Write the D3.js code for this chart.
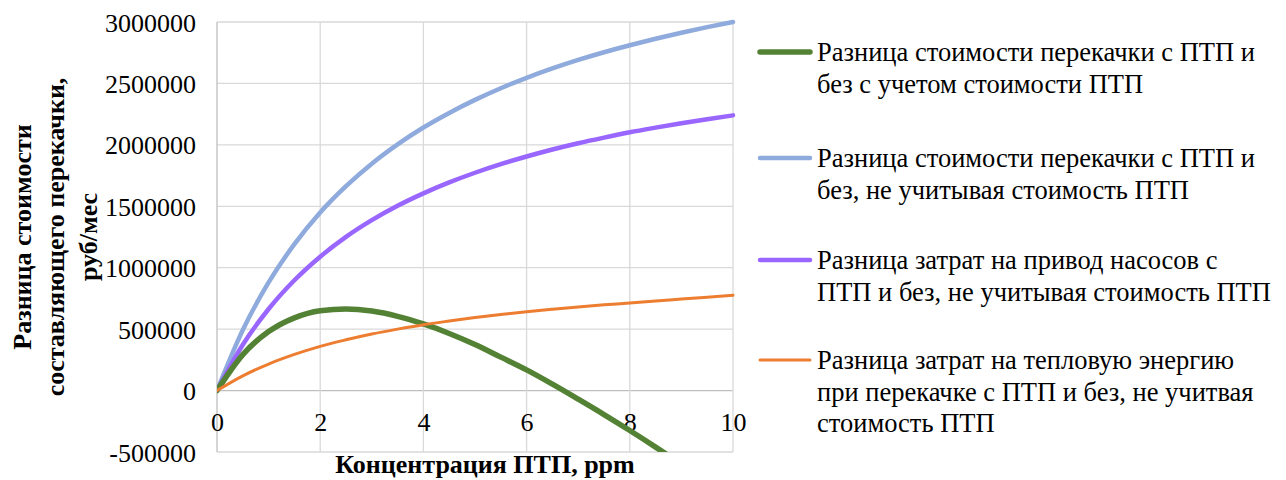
<!DOCTYPE html>
<html><head><meta charset="utf-8">
<script src="https://cdn.jsdelivr.net/npm/d3@7"></script>
<style>body{margin:0;background:#fff}svg{display:block}svg text{font-family:"Liberation Serif","Times New Roman",serif}</style>
</head><body>
<svg id="c" width="1286" height="480"></svg>
<script>
const xValues = [0,0.5,1,1.5,2,2.5,3,3.5,4,4.5,5,5.5,6,6.5,7,7.5,8,8.5,9,9.5,10];
const greenValues = [0,293000,480000,592000,650000,664000,647000,604000,542000,465000,375000,272000,168000,52000,-70000,-195000,-325000,-460000,-600000,-745000,-890000];
const blueValues = [0,493000,880000,1192000,1450000,1664000,1847000,2004000,2141000,2260000,2366000,2461000,2546000,2622000,2691000,2754000,2811000,2864000,2913000,2958000,3000000];
const purpleValues = [0,373000,664000,898000,1090000,1251000,1387000,1504000,1605000,1694000,1773000,1843000,1905000,1962000,2013000,2059000,2102000,2140000,2176000,2209000,2240000];
const orangeValues = [0,120000,216000,294000,360000,413000,460000,500000,536000,566000,594000,620000,642000,662000,681000,698000,713000,730000,745000,760000,775000];
const seriesNames = [
  ["Разница стоимости перекачки с ПТП и","без с учетом стоимости ПТП"],
  ["Разница стоимости перекачки с ПТП и","без, не учитывая стоимость ПТП"],
  ["Разница затрат на привод насосов с","ПТП и без, не учитывая стоимость ПТП"],
  ["Разница затрат на тепловую энергию","при перекачке с ПТП и без, не учитвая","стоимость ПТП"]
];
const xTicks = [0,2,4,6,8,10];
const yTicks = [-500000,0,500000,1000000,1500000,2000000,2500000,3000000];
const xTitle = "Концентрация ПТП, ppm";
const yTitle = ["Разница стоимости","составляющего перекачки,","руб/мес"];

const series = [
  {values: greenValues, color: "#548235", width: 5.5},
  {values: blueValues, color: "#8FAADC", width: 4.5},
  {values: purpleValues, color: "#9966FF", width: 4.5},
  {values: orangeValues, color: "#ED7D31", width: 3}
];
const drawOrder = [1,2,0,3];

const svg = d3.select("#c");
const L = 217, R = 733, T = 22, B = 452;
const x = d3.scaleLinear().domain([0,10]).range([L,R]);
const y = d3.scaleLinear().domain([-500000,3000000]).range([B,T]);

// gridlines
const g = svg.append("g");
g.selectAll(".hg").data(yTicks).join("line")
  .attr("x1",L).attr("x2",R).attr("y1",d=>y(d)).attr("y2",d=>y(d))
  .attr("stroke", d=> d===0 ? "#BFBFBF" : "#D9D9D9").attr("stroke-width",1.3);
g.selectAll(".vg").data(xTicks).join("line")
  .attr("y1",T).attr("y2",B).attr("x1",d=>x(d)).attr("x2",d=>x(d))
  .attr("stroke", d=> d===0 ? "#BFBFBF" : "#D9D9D9").attr("stroke-width",1.3);

// y axis labels
const yAxis = d3.axisLeft(y).tickValues(yTicks).tickSize(0).tickPadding(0).tickFormat(d=>String(d));
const ya = svg.append("g").attr("transform",`translate(${L-21},0)`).call(yAxis);
ya.attr("font-family",null);
ya.select(".domain").remove();
ya.selectAll("text").style("font-size","26px").attr("fill","#000").attr("dy","0.35em");

// x axis labels
const xAxis = d3.axisBottom(x).tickValues(xTicks).tickSize(0).tickPadding(0);
const xa = svg.append("g").attr("transform",`translate(0,${y(0)+31})`).call(xAxis);
xa.attr("font-family",null);
xa.select(".domain").remove();
xa.selectAll("text").style("font-size","26px").attr("fill","#000").attr("dy","0.35em");

// clip
svg.append("clipPath").attr("id","clip").append("rect").attr("x",L).attr("y",T-3).attr("width",R-L+3).attr("height",B-T+3);

const line = d3.line().x((d,i)=>x(xValues[i])).y(d=>y(d)).curve(d3.curveMonotoneX);
const lg = svg.append("g").attr("clip-path","url(#clip)");
drawOrder.forEach(i=>{
  const s = series[i];
  lg.append("path").attr("d",line(s.values)).attr("fill","none")
    .attr("stroke",s.color).attr("stroke-width",s.width).attr("stroke-linecap","round").attr("stroke-linejoin","round");
});

// x title
svg.append("text").attr("x",485).attr("y",464).attr("dy","0.35em").attr("text-anchor","middle")
  .style("font-weight","bold").style("font-size","26px").text(xTitle);

// y title
const yt = svg.append("text").attr("transform","translate(22,237) rotate(-90)")
  .attr("text-anchor","middle").style("font-weight","bold").style("font-size","26px");
yTitle.forEach((t,i)=>{
  yt.append("tspan").attr("x",0).attr("y", i*33).attr("dy","0.35em").text(t);
});

// legend
const legendTops = [52,158,260,360];
const lh = 31.5;
series.forEach((s,i)=>{
  const cy = legendTops[i];
  svg.append("line").attr("x1",760).attr("x2",810).attr("y1",cy).attr("y2",cy)
    .attr("stroke",s.color).attr("stroke-width",s.width).attr("stroke-linecap","round");
  const t = svg.append("text").style("font-size","26.5px").attr("fill","#000");
  seriesNames[i].forEach((ln,j)=>{
    t.append("tspan").attr("x",817).attr("y",cy + j*lh).attr("dy","0.35em").text(ln);
  });
});
</script>
</body></html>
